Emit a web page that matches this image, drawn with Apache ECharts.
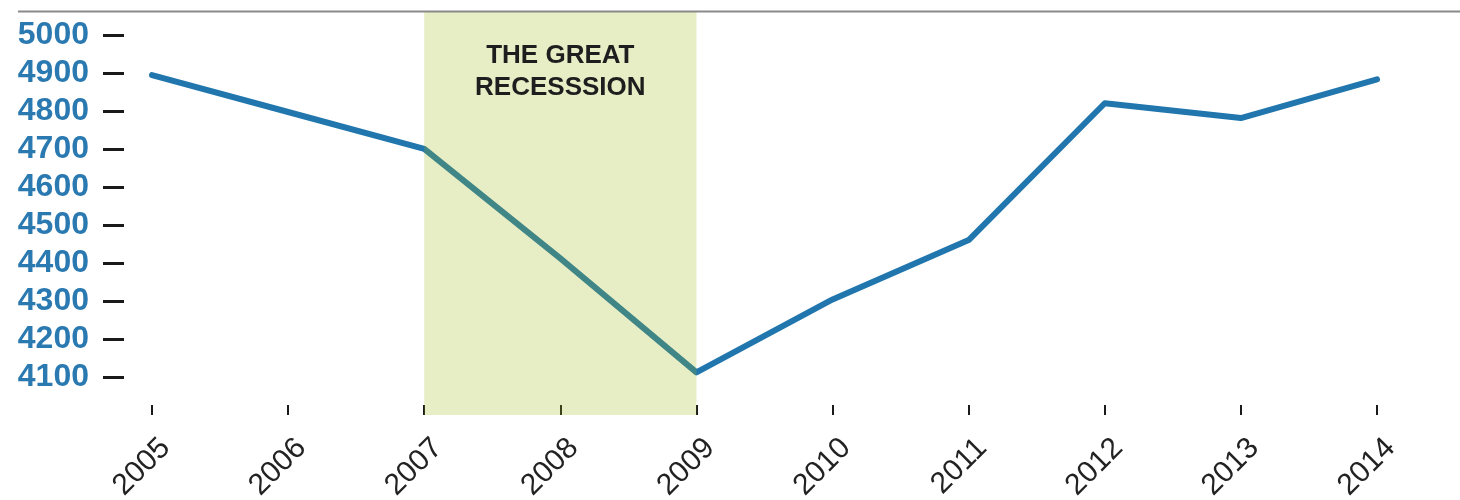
<!DOCTYPE html>
<html>
<head>
<meta charset="utf-8">
<script src="https://cdn.jsdelivr.net/npm/echarts@6/dist/echarts.min.js"></script>
<style>
html, body { margin: 0; padding: 0; background: #fff; }
#chart { width: 1460px; height: 500px; }
</style>
</head>
<body>
<div id="chart"></div>
<script>
// years on the x axis
var years = ['2005', '2006', '2007', '2008', '2009', '2010', '2011', '2012', '2013', '2014'];
// values
var values = [4894, 4797, 4700, 4412, 4112, 4304, 4460, 4820, 4781, 4883];
// labelled ticks on the y axis
var yTicks = [4100, 4200, 4300, 4400, 4500, 4600, 4700, 4800, 4900, 5000];
// shaded period
var recession = ['2007', '2009'];
var recessionText = 'THE GREAT\nRECESSSION';

var chart = echarts.init(document.getElementById('chart'));
var font = '"Liberation Sans", Arial, Helvetica, sans-serif';

var option = {
	animation: false,
	grid: {
		left: 152,
		right: 83,
		top: 12,
		bottom: 85,
		containLabel: false,
		outerBoundsMode: 'none'
	},
	xAxis: {
		type: 'category',
		data: years,
		boundaryGap: false,
		axisLine: { show: false },
		axisTick: {
			show: true,
			inside: true,
			length: 10,
			lineStyle: { color: '#1a1a1a', width: 2 }
		},
		axisLabel: {
			rotate: 45,
			margin: 15,
			verticalAlign: 'top',
			padding: [4, 0, 0, 0],
			fontSize: 30,
			fontFamily: font,
			color: '#222'
		},
		splitLine: { show: false }
	},
	yAxis: {
		type: 'value',
		min: 4000,
		max: 5060,
		offset: 28,
		axisLine: { show: false },
		axisTick: {
			show: true,
			length: 21,
			customValues: yTicks,
			lineStyle: { color: '#1a1a1a', width: 3 }
		},
		axisLabel: {
			customValues: yTicks,
			formatter: function (v) { return String(v); },
			margin: 35,
			fontSize: 32,
			fontWeight: 'bold',
			fontFamily: font,
			color: '#2a79b1'
		},
		splitLine: { show: false }
	},
	graphic: [{
		// thin rule along the top
		type: 'line',
		z: 100,
		shape: { x1: 18, y1: 11.5, x2: 1460, y2: 11.5 },
		style: { stroke: '#8a8a8a', lineWidth: 2 }
	}],
	series: [{
		type: 'line',
		data: values,
		symbol: 'none',
		z: 2,
		lineStyle: { color: '#2176ae', width: 6, join: 'round', cap: 'round' }
	}, {
		// the band sits over the line, like a highlighter
		type: 'line',
		data: [],
		z: 5,
		markArea: {
			silent: true,
			z: 5,
			itemStyle: { color: 'rgba(160, 182, 20, 0.25)' },
			label: {
				show: true,
				position: 'insideTop',
				distance: 28,
				formatter: recessionText,
				fontSize: 26,
				fontWeight: 'bold',
				fontFamily: font,
				lineHeight: 32,
				align: 'center',
				color: '#1e1e1e'
			},
			data: [[{ xAxis: recession[0] }, { xAxis: recession[1] }]]
		}
	}]
};

chart.setOption(option);
</script>
</body>
</html>
